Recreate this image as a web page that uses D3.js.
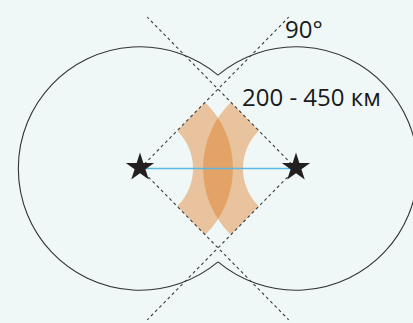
<!DOCTYPE html>
<html>
<head>
<meta charset="utf-8">
<script src="https://cdn.jsdelivr.net/npm/d3@7"></script>
<style>
  html, body { margin: 0; padding: 0; background: #eff8f7; }
  svg { display: block; }
</style>
</head>
<body>
<div id="chart"></div>
<script>

// diagram data (distances in km)
var stationKm = [0, 500],
    coverageKm = 390,
    ringKm = [170, 298],
    rayKm = 680,
    wedgeHalfDeg = 45.5;

var angleLabel = "90°",
    rangeLabel = "200 - 450 км";

var svg_dx = 413,
    svg_dy = 323,
    cy = 168.5;

var x = d3.scaleLinear().domain(stationKm).range([140, 296]);
var k = (x(stationKm[1]) - x(stationKm[0])) / (stationKm[1] - stationKm[0]);
var r = function(km) { return km * k; };

var svg = d3.select("#chart")
            .append("svg")
            .attr("width", svg_dx)
            .attr("height", svg_dy);

svg.append("rect")
   .attr("width", svg_dx)
   .attr("height", svg_dy)
   .attr("fill", "#eff8f7");

var half = wedgeHalfDeg * Math.PI / 180;

// ring sectors, d3.arc angles: 0 = up, clockwise
var sector = d3.arc()
    .innerRadius(r(ringKm[0]))
    .outerRadius(r(ringKm[1]));

var sectors = stationKm.map(function(d, i) {
    var dir = i === 0 ? Math.PI / 2 : -Math.PI / 2;
    return {cx: x(d), start: dir - half, end: dir + half};
});

svg.append("defs")
   .append("clipPath")
   .attr("id", "leftSector")
   .append("path")
   .attr("transform", "translate(" + sectors[0].cx + "," + cy + ")")
   .attr("d", sector({startAngle: sectors[0].start, endAngle: sectors[0].end}));

svg.append("g")
   .selectAll("path")
   .data(sectors)
   .enter()
   .append("path")
   .attr("transform", d => "translate(" + d.cx + "," + cy + ")")
   .attr("d", d => sector({startAngle: d.start, endAngle: d.end}))
   .attr("fill", "#e9c39e");

// overlap of the two sectors
svg.append("g")
   .attr("clip-path", "url(#leftSector)")
   .append("path")
   .attr("transform", "translate(" + sectors[1].cx + "," + cy + ")")
   .attr("d", sector({startAngle: sectors[1].start, endAngle: sectors[1].end}))
   .attr("fill", "#e3a266");

// union outline of the two coverage circles
var R = r(coverageKm),
    halfDist = (x(stationKm[1]) - x(stationKm[0])) / 2,
    theta = Math.acos(halfDist / R);

var outline = d3.path();
var x0 = x(stationKm[0]), x1 = x(stationKm[1]);
outline.moveTo(x0 + R * Math.cos(-theta), cy + R * Math.sin(-theta));
outline.arc(x0, cy, R, -theta, theta, true);
outline.moveTo(x1 + R * Math.cos(theta - Math.PI), cy + R * Math.sin(theta - Math.PI));
outline.arc(x1, cy, R, theta - Math.PI, Math.PI - theta, false);

svg.append("path")
   .attr("d", outline.toString())
   .attr("fill", "none")
   .attr("stroke", "#333")
   .attr("stroke-width", 1.1);

// dashed rays bounding the 90° sectors
var rays = [];
stationKm.forEach(function(d, i) {
    var sx = i === 0 ? 1 : -1;
    [-1, 1].forEach(function(sy) {
        rays.push({
            x1: x(d), y1: cy,
            x2: x(d) + sx * r(rayKm) * Math.cos(half),
            y2: cy + sy * r(rayKm) * Math.sin(half)
        });
    });
});

svg.append("g")
   .selectAll("line")
   .data(rays)
   .enter()
   .append("line")
   .attr("x1", d => d.x1)
   .attr("y1", d => d.y1)
   .attr("x2", d => d.x2)
   .attr("y2", d => d.y2)
   .attr("stroke", "#3a3a3a")
   .attr("stroke-width", 1.1)
   .attr("stroke-dasharray", "3,3");

// baseline between stations
svg.append("line")
   .attr("x1", x(stationKm[0]))
   .attr("x2", x(stationKm[1]))
   .attr("y1", cy)
   .attr("y2", cy)
   .attr("stroke", "#5bb6e0")
   .attr("stroke-width", 1.5);

svg.append("g")
   .selectAll("path")
   .data(stationKm)
   .enter()
   .append("path")
   .attr("transform", d => "translate(" + x(d) + "," + (cy - 1) + ")")
   .attr("d", d3.symbol(d3.symbolStar).size(250))
   .attr("fill", "#231f20");

svg.append("text")
   .attr("x", 285)
   .attr("y", 38)
   .style("font-family", "'Open Sans', 'Noto Sans', sans-serif")
   .style("font-size", "24px")
   .attr("fill", "#1a1a1a")
   .text(angleLabel);

svg.append("text")
   .attr("x", 242)
   .attr("y", 106)
   .style("font-family", "'Open Sans', 'Noto Sans', sans-serif")
   .style("font-size", "24px")
   .attr("fill", "#1a1a1a")
   .text(rangeLabel);

</script>
</body>
</html>
